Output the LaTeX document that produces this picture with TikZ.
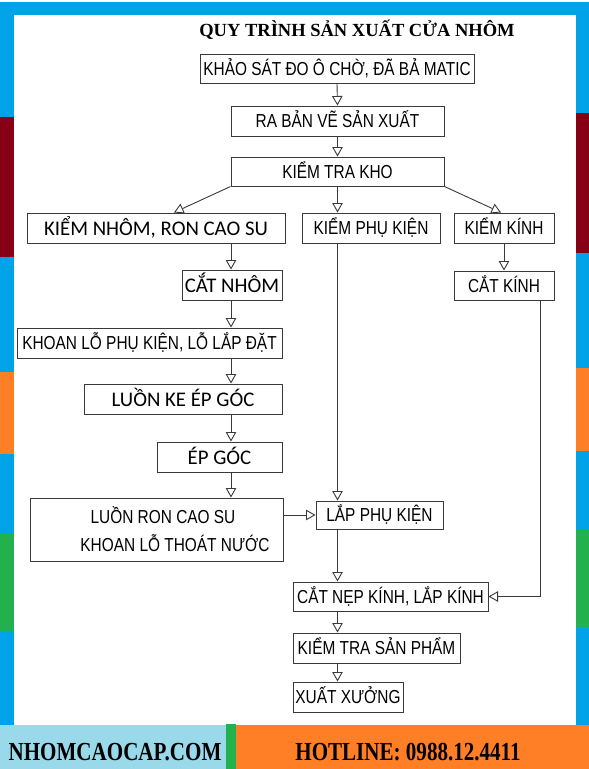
\documentclass[tikz,border=0pt]{standalone}
\usepackage{fontspec}
\usetikzlibrary{arrows.meta,calc}
\setmainfont{Liberation Sans}
\newfontfamily\nfont[FakeStretch=0.82]{Liberation Sans}
\newfontfamily\cfont{Carlito}
\newfontfamily\sfont{Liberation Serif}
\newfontfamily\bfont[FakeStretch=0.81]{Liberation Serif}
\definecolor{pblue}{HTML}{00A2E8}
\definecolor{pmaroon}{HTML}{880015}
\definecolor{porange}{HTML}{FF7F27}
\definecolor{pgreen}{HTML}{22B14C}
\definecolor{plblue}{HTML}{99D9EA}
\definecolor{linec}{HTML}{3A3A3A}
\begin{document}
\begin{tikzpicture}[x=1pt,y=-1pt,
  box/.style={draw=linec, line width=1pt, fill=white, inner sep=0pt,
    text height=13.2pt, text depth=0pt, font=\nfont\fontsize{18.8}{20}\selectfont},
  cbox/.style={box, text height=14.5pt, font=\cfont\fontsize{20.8}{22}\selectfont},
  arr/.style={draw=linec, line width=0.9pt, -{Triangle[length=9.5pt,width=10.5pt,fill=white]}},
  btext/.style={inner sep=0pt, text height=17pt, text depth=0pt, font=\bfont\bfseries\fontsize{26}{28}\selectfont}]

\useasboundingbox (0,0) rectangle (589,769);
\fill[white] (0,0) rectangle (589,769);

% frame bars
\fill[pblue] (0,2) rectangle (589,15);
% left bar
\fill[pblue] (0,2) rectangle (14,117);
\fill[pmaroon] (0,117) rectangle (14,257);
\fill[pblue] (0,257) rectangle (14,372);
\fill[porange] (0,372) rectangle (14,454);
\fill[pblue] (0,454) rectangle (14,534);
\fill[pgreen] (0,534) rectangle (14,631);
\fill[pblue] (0,631) rectangle (14,726);
% right bar
\fill[pblue] (576,2) rectangle (589,113);
\fill[pmaroon] (576,113) rectangle (589,253);
\fill[pblue] (576,253) rectangle (589,368);
\fill[porange] (576,368) rectangle (589,451);
\fill[pblue] (576,451) rectangle (589,530);
\fill[pgreen] (576,530) rectangle (589,627);
\fill[pblue] (576,627) rectangle (589,726);
% bottom bar
\fill[plblue] (0,725) rectangle (226,769);
\fill[pgreen] (226,724) rectangle (236,769);
\fill[porange] (236,725) rectangle (589,769);

\node[btext] (web) at (115,752) {NHOMCAOCAP.COM};
\node[btext] (hot) at (408,752) {HOTLINE: 0988.12.4411};

% title
\node[inner sep=0pt, text height=12.2pt, text depth=0pt, font=\sfont\bfseries\fontsize{18.5}{20}\selectfont] (title) at (357,30) {QUY TRÌNH SẢN XUẤT CỬA NHÔM};

% boxes
\node[box, minimum width=274pt, minimum height=29pt] (b1) at (337,68.5) {KHẢO SÁT ĐO Ô CHỜ, ĐÃ BẢ MATIC};
\node[box, minimum width=213pt, minimum height=30pt] (b2) at (337.5,121) {RA BẢN VẼ SẢN XUẤT};
\node[box, minimum width=213pt, minimum height=29pt] (b3) at (337.5,171.5) {KIỂM TRA KHO};
\node[cbox, minimum width=258pt, minimum height=30pt] (b4) at (156,228) {KIỂM NHÔM, RON CAO SU};
\node[box, minimum width=138pt, minimum height=30pt] (b5) at (371,228) {KIỂM PHỤ KIỆN};
\node[box, minimum width=100pt, minimum height=30pt] (b6) at (504,228) {KIỂM KÍNH};
\node[cbox, minimum width=100pt, minimum height=30pt] (b7) at (232,285) {CẮT NHÔM};
\node[box, minimum width=100pt, minimum height=29pt] (b8) at (504,285.5) {CẮT KÍNH};
\node[box, minimum width=265pt, minimum height=30pt] (b9) at (149.5,343) {KHOAN LỖ PHỤ KIỆN, LỖ LẮP ĐẶT};
\node[cbox, minimum width=198pt, minimum height=30pt] (b10) at (183,399) {LUỒN KE ÉP GÓC};
\node[cbox, minimum width=125pt, minimum height=30pt] (b11) at (219.5,457) {ÉP GÓC};
\node[box, minimum width=253pt, minimum height=63pt] (b12) at (156.5,529.5) {};
\node[inner sep=0pt, anchor=base, font=\nfont\fontsize{18.8}{20}\selectfont] (t12a) at (163,523) {LUỒN RON CAO SU};
\node[inner sep=0pt, anchor=base, font=\nfont\fontsize{18.8}{20}\selectfont] (t12b) at (175,551) {KHOAN LỖ THOÁT NƯỚC};
\node[box, minimum width=127pt, minimum height=28pt] (b13) at (379.5,515) {LẮP PHỤ KIỆN};
\node[box, minimum width=195pt, minimum height=29pt] (b14) at (390.5,596.5) {CẮT NẸP KÍNH, LẮP KÍNH};
\node[box, minimum width=167pt, minimum height=30pt] (b15) at (376.5,648) {KIỂM TRA SẢN PHẨM};
\node[box, minimum width=110pt, minimum height=30pt] (b16) at (348,697) {XUẤT XƯỞNG};

% connectors
\draw[arr] (b1.south) -- (b2.north);
\draw[arr] (b2.south) -- (b3.north);
\draw[arr] (b3.south west) -- ([xshift=18pt]b4.north);
\draw[arr] (b3.south) -- (b3.south |- b5.north);
\draw[arr] (b3.south east) -- ([xshift=-3pt]b6.north);
\draw[arr] ([xshift=-1pt]b7.north |- b4.south) -- ([xshift=-1pt]b7.north);
\draw[arr] ([xshift=-1pt]b7.south) -- ([xshift=-1pt]b7.south |- b9.north);
\draw[arr] ([xshift=-1pt]b7.south |- b9.south) -- ([xshift=-1pt]b7.south |- b10.north);
\draw[arr] ([xshift=-1pt]b7.south |- b10.south) -- ([xshift=-1pt]b7.south |- b11.north);
\draw[arr] ([xshift=-1pt]b7.south |- b11.south) -- ([xshift=-1pt]b7.south |- b12.north);
\draw[arr] (b6.south) -- (b8.north);
\draw[arr] (b3.south |- b5.south) -- (b3.south |- b13.north);
\draw[arr] (b12.east |- b13.west) -- (b13.west);
\draw[arr] (b3.south |- b13.south) -- (b3.south |- b14.north);
\draw[arr] ([xshift=36pt]b8.south) -- ([xshift=36pt]b8.south |- b14.east) -- (b14.east);
\draw[arr] (b3.south |- b14.south) -- (b3.south |- b15.north);
\draw[arr] (b3.south |- b15.south) -- (b3.south |- b16.north);
\end{tikzpicture}
\end{document}
